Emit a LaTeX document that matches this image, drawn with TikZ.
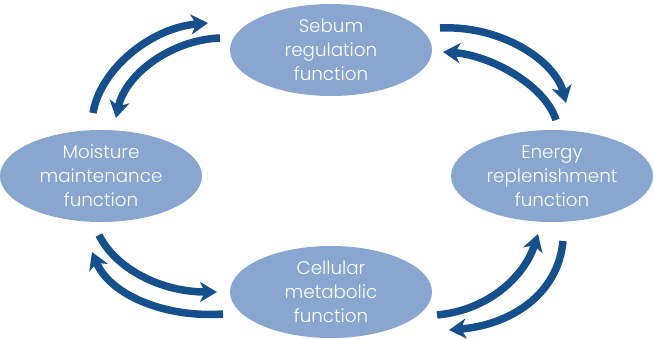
\documentclass[tikz,border=0pt]{standalone}
\usepackage{fontspec}
\setmainfont{Poppins}[UprightFont=* Light]
\usetikzlibrary{shapes.geometric,arrows.meta}
\definecolor{ellfill}{RGB}{136,166,207}
\definecolor{arrblue}{RGB}{21,79,140}
\begin{document}
\begin{tikzpicture}[x=1pt,y=-1pt,
  fn/.style={ellipse,fill=ellfill,draw=none,inner sep=0pt,
    minimum width=202pt,minimum height=92pt,text=white,align=center,
    font=\fontsize{18.3}{24}\selectfont},
  cyc/.style={draw=arrblue,line width=7.5pt,
    -{Stealth[length=17pt,width=20pt,inset=5pt]}}]
\useasboundingbox (0,0) rectangle (653,338);
\node[fn] (top) at (331,50) {Sebum\\regulation\\function};
\node[fn] (left) at (101,176) {Moisture\\maintenance\\function};
\node[fn] (right) at (552,176) {Energy\\replenishment\\function};
\node[fn] (bot) at (331,292) {Cellular\\metabolic\\function};
% arrow end points
\coordinate (tlOs) at (93,113);  \coordinate (tlOe) at (208,23);
\coordinate (tlIs) at (220,38);  \coordinate (tlIe) at (116,118);
\coordinate (trOs) at (440,28);  \coordinate (trOe) at (566,103);
\coordinate (trIs) at (556,120); \coordinate (trIe) at (443,52);
\coordinate (blOs) at (99,235);  \coordinate (blOe) at (217,292);
\coordinate (blIs) at (223,314); \coordinate (blIe) at (92,252);
\coordinate (brIs) at (437,315); \coordinate (brIe) at (538,234);
\coordinate (brOs) at (563,241); \coordinate (brOe) at (449,330);
\draw[cyc] (tlOs) .. controls (100,70) and (150,28) .. (tlOe);
\draw[cyc] (tlIs) .. controls (170,40) and (125,75) .. (tlIe);
\draw[cyc] (trOs) .. controls (500,25) and (555,60) .. (trOe);
\draw[cyc] (trIs) .. controls (545,85) and (490,55) .. (trIe);
\draw[cyc] (blOs) .. controls (115,268) and (160,292) .. (blOe);
\draw[cyc] (blIs) .. controls (165,318) and (110,295) .. (blIe);
\draw[cyc] (brIs) .. controls (490,310) and (525,275) .. (brIe);
\draw[cyc] (brOs) .. controls (558,295) and (510,325) .. (brOe);
\end{tikzpicture}
\end{document}
